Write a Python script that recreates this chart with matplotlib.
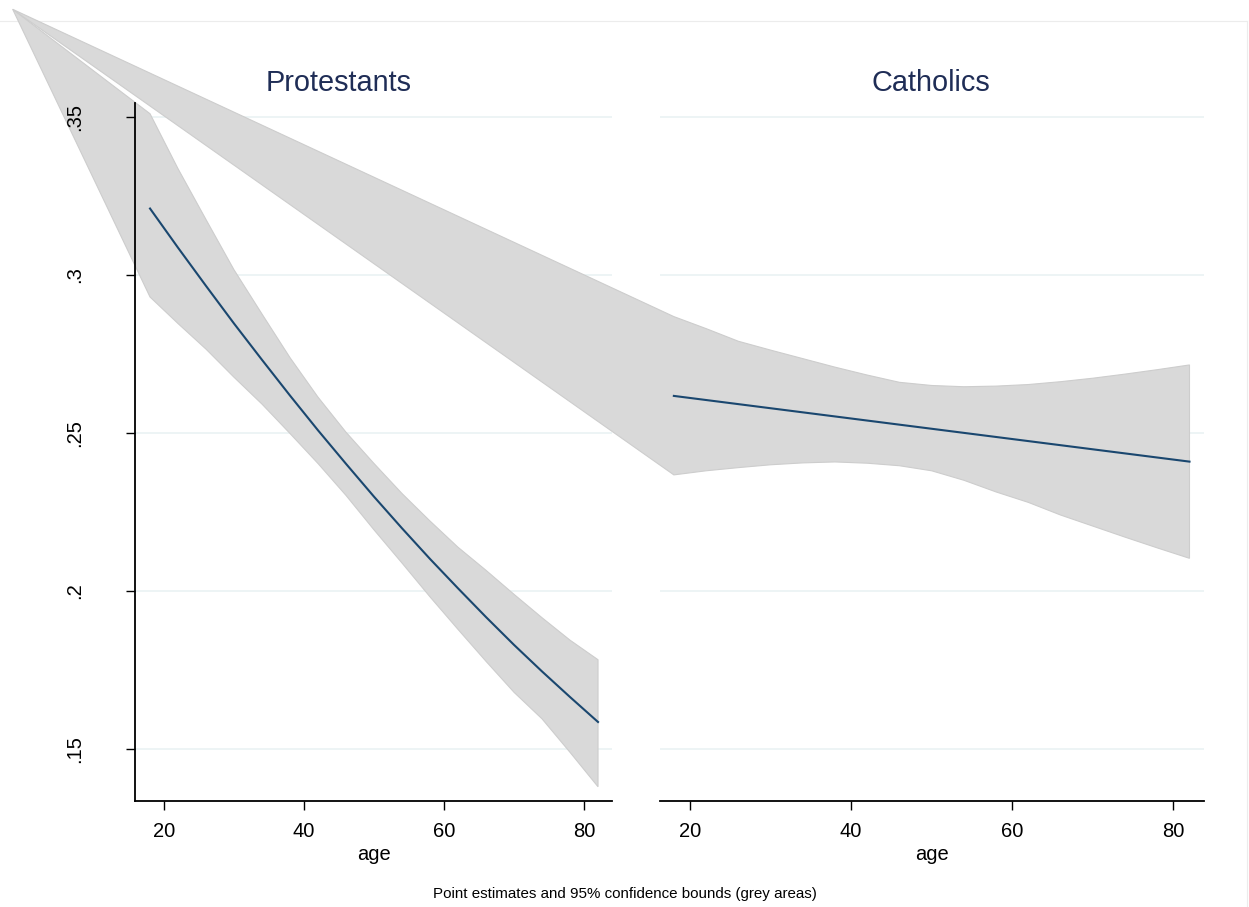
import numpy as np
import matplotlib
matplotlib.use("Agg")
import matplotlib.pyplot as plt
from matplotlib.patches import Polygon
from matplotlib.lines import Line2D
from matplotlib.transforms import IdentityTransform

plt.rcParams['font.family'] = ['Liberation Sans', 'DejaVu Sans']

# predicted probabilities by age, with 95% bounds
edad = [18, 22, 26, 30, 34, 38, 42, 46, 50, 54, 58, 62, 66, 70, 74, 78, 82]

prot_est = [.3210, .3086, .2965, .2846, .2731, .2618, .2508, .2402, .2298,
            .2198, .2101, .2008, .1917, .1829, .1745, .1664, .1585]
prot_hi = [.3510, .3336, .3175, .3016, .2876, .2738, .2613, .2502, .2403,
           .2308, .2221, .2138, .2065, .1989, .1915, .1844, .1782]
prot_lo = [.2930, .2846, .2765, .2676, .2591, .2498, .2403, .2302, .2193,
           .2088, .1981, .1878, .1777, .1679, .1595, .1489, .1380]

cath_est = [.2617, .2604, .2591, .2578, .2565, .2552, .2539, .2526, .2513,
            .2500, .2487, .2474, .2461, .2448, .2435, .2422, .2409]
cath_hi = [.2868, .2830, .2790, .2762, .2735, .2708, .2683, .2660, .2650,
           .2646, .2648, .2653, .2662, .2673, .2686, .2700, .2715]
cath_lo = [.2367, .2380, .2390, .2399, .2405, .2408, .2404, .2396, .2380,
           .2350, .2313, .2280, .2240, .2205, .2170, .2136, .2103]

y_ticks = [.15, .2, .25, .3, .35]
y_labels = ['.15', '.2', '.25', '.3', '.35']
x_ticks = [20, 40, 60, 80]
x_labels = ['20', '40', '60', '80']

W, H = 1249, 907
fig = plt.figure(figsize=(W / 100, H / 100), dpi=100)

bottom = (H - 801.3) / H
height = (801.3 - 103) / H
ax_p = fig.add_axes([134.7 / W, bottom, (612.3 - 134.7) / W, height])
ax_c = fig.add_axes([660 / W, bottom, 544 / W, height])

ax_p.set_xlim(15.81, 84.04)
ax_c.set_xlim(16.28, 83.8)

color_linea = '#1a476f'
color_banda = '#d9d9d9'
color_grid = '#eaf2f3'

# corner point that the band outlines get closed through
esquina = fig.transFigure.transform((12.7 / W, 1 - 9.3 / H))


def banda(ax, x, lo, hi):
    pts = np.column_stack([np.r_[x, x[::-1]], np.r_[hi, lo[::-1]]])
    disp = ax.transData.transform(pts)
    disp = np.vstack([disp, esquina])
    poly = Polygon(disp, closed=True, transform=IdentityTransform(),
                   facecolor=color_banda, edgecolor='#cdcdcd', lw=0.8,
                   clip_on=False, zorder=1.6)
    ax.add_patch(poly)


for ax, est, lo, hi in [(ax_p, prot_est, prot_lo, prot_hi),
                        (ax_c, cath_est, cath_lo, cath_hi)]:
    ax.set_ylim(0.1334, 0.3544)
    for v in y_ticks:
        ax.axhline(v, color=color_grid, lw=1.2, zorder=0.8)
    banda(ax, np.array(edad), np.array(lo), np.array(hi))
    ax.plot(edad, est, color=color_linea, lw=1.5, zorder=3)
    ax.set_axisbelow(False)
    for s in ['top', 'right']:
        ax.spines[s].set_visible(False)
    ax.spines['bottom'].set_linewidth(1.3)
    ax.set_xticks(x_ticks)
    ax.set_xticklabels(x_labels)
    ax.tick_params(axis='x', length=6.5, width=1.0, labelsize=14.5, pad=8.5)
    ax.set_xlabel('age', fontsize=14.5, labelpad=2.5)

ax_p.spines['left'].set_linewidth(1.3)
ax_p.set_yticks(y_ticks)
ax_p.set_yticklabels(y_labels, rotation=90, va='center')
ax_p.tick_params(axis='y', length=6.5, width=1.0, labelsize=14.5, pad=30)

ax_c.spines['left'].set_visible(False)
ax_c.set_yticks(y_ticks)
ax_c.tick_params(axis='y', left=False, labelleft=False)

fig.text(339 / W, 1 - 83 / H, 'Protestants', ha='center', va='center',
         fontsize=20.8, color='#1f2d56')
fig.text(931 / W, 1 - 83 / H, 'Catholics', ha='center', va='center',
         fontsize=20.8, color='#1f2d56')
fig.text(625 / W, 1 - 894 / H,
         'Point estimates and 95% confidence bounds (grey areas)',
         ha='center', va='center', fontsize=10.9)

# faint outer frame
fig.add_artist(Line2D([0, 1247 / W], [1 - 21 / H, 1 - 21 / H],
                      transform=fig.transFigure, color='#ececec', lw=0.8, zorder=-1))
fig.add_artist(Line2D([1247 / W, 1247 / W], [0, 1 - 21 / H],
                      transform=fig.transFigure, color='#ececec', lw=0.8, zorder=-1))

fig.savefig('out.png', dpi=100)
